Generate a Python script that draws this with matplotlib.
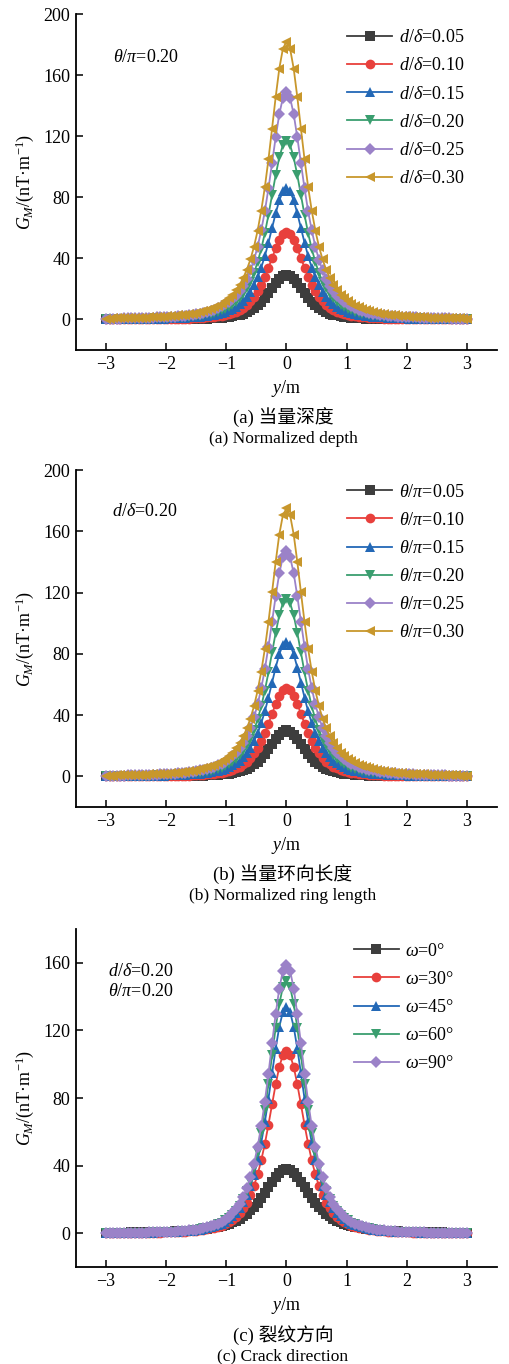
import matplotlib
matplotlib.use("Agg")
import matplotlib.pyplot as plt
import numpy as np

plt.rcParams['font.family'] = ['Liberation Serif', 'Noto Sans CJK SC']
plt.rcParams['mathtext.fontset'] = 'custom'
plt.rcParams['mathtext.rm'] = 'Liberation Serif'
plt.rcParams['mathtext.it'] = 'Liberation Serif:italic'
plt.rcParams['font.size'] = 13

# sample positions y >= 0 (curves are symmetric about y = 0)
y_half = np.round(np.arange(0, 3.0001, 0.06), 2)

# (a) normalized depth, theta/pi = 0.20
depth_labels = [r'$d/\delta$=0.05', r'$d/\delta$=0.10', r'$d/\delta$=0.15',
                r'$d/\delta$=0.20', r'$d/\delta$=0.25', r'$d/\delta$=0.30']
depth_005 = [29.0, 28.3, 26.4, 23.7, 20.5, 17.2, 14.2, 11.6, 9.3, 7.5, 6.0, 4.9, 3.9, 3.2, 2.6, 2.1, 1.8,
             1.5, 1.2, 1.0, 0.9, 0.8, 0.6, 0.6, 0.5, 0.4, 0.4, 0.3, 0.3, 0.2, 0.2, 0.2, 0.2, 0.2, 0.1,
             0.1, 0.1, 0.1, 0.1, 0.1, 0.1, 0.1, 0.1, 0.1, 0.0, 0.0, 0.0, 0.0, 0.0, 0.0, 0.0]
depth_010 = [57.0, 55.7, 51.9, 46.5, 40.2, 33.9, 27.9, 22.7, 18.4, 14.8, 11.9, 9.6, 7.8, 6.3, 5.1, 4.2, 3.5,
             2.9, 2.4, 2.1, 1.7, 1.5, 1.3, 1.1, 0.9, 0.8, 0.7, 0.6, 0.5, 0.5, 0.4, 0.4, 0.3, 0.3, 0.3,
             0.2, 0.2, 0.2, 0.2, 0.2, 0.1, 0.1, 0.1, 0.1, 0.1, 0.1, 0.1, 0.1, 0.1, 0.1, 0.1]
depth_015 = [86.0, 83.9, 78.0, 69.5, 59.9, 50.3, 41.5, 34.0, 27.6, 22.4, 18.2, 15.0, 12.3, 10.1, 8.4, 7.1, 5.9,
             5.0, 4.3, 3.7, 3.2, 2.8, 2.4, 2.1, 1.8, 1.6, 1.5, 1.3, 1.1, 1.0, 0.9, 0.8, 0.8, 0.7, 0.6,
             0.6, 0.5, 0.5, 0.4, 0.4, 0.4, 0.3, 0.3, 0.3, 0.3, 0.3, 0.2, 0.2, 0.2, 0.2, 0.2]
depth_020 = [117.0, 114.2, 106.1, 94.5, 81.5, 68.4, 56.5, 46.2, 37.6, 30.5, 24.8, 20.4, 16.7, 13.8, 11.5, 9.6,
             8.1, 6.8, 5.9, 5.0, 4.3, 3.7, 3.3, 2.8, 2.5, 2.2, 2.0, 1.8, 1.5, 1.4, 1.3, 1.1, 1.0, 0.9, 0.9,
             0.8, 0.7, 0.7, 0.6, 0.5, 0.5, 0.5, 0.4, 0.4, 0.4, 0.4, 0.3, 0.3, 0.3, 0.3, 0.3]
depth_025 = [149.0, 145.1, 134.4, 119.2, 102.4, 85.8, 70.9, 58.3, 47.7, 39.0, 32.2, 26.7, 22.2, 18.6, 15.6,
             13.3, 11.4, 9.8, 8.5, 7.4, 6.4, 5.7, 5.0, 4.4, 3.9, 3.5, 3.2, 2.8, 2.5, 2.3, 2.1, 1.9, 1.8,
             1.6, 1.5, 1.4, 1.3, 1.2, 1.1, 1.0, 0.9, 0.9, 0.8, 0.8, 0.7, 0.7, 0.6, 0.6, 0.6, 0.5, 0.5]
depth_030 = [182.0, 177.3, 164.2, 145.6, 125.0, 104.8, 86.6, 71.2, 58.2, 47.7, 39.3, 32.6, 27.1, 22.8, 19.1,
             16.3, 14.0, 12.0, 10.4, 9.0, 7.9, 6.9, 6.1, 5.4, 4.8, 4.3, 3.9, 3.5, 3.1, 2.9, 2.6, 2.4, 2.2,
             2.0, 1.8, 1.7, 1.5, 1.4, 1.3, 1.2, 1.1, 1.1, 1.0, 0.9, 0.9, 0.8, 0.8, 0.7, 0.7, 0.6, 0.6]

# (b) normalized ring length, d/delta = 0.20
ring_labels = [r'$\theta/\pi$=0.05', r'$\theta/\pi$=0.10', r'$\theta/\pi$=0.15',
               r'$\theta/\pi$=0.20', r'$\theta/\pi$=0.25', r'$\theta/\pi$=0.30']
ring_005 = [30.0, 29.3, 27.3, 24.5, 21.2, 17.8, 14.7, 12.0, 9.7, 7.8, 6.2, 5.0, 4.1, 3.3, 2.7, 2.2, 1.8,
            1.5, 1.3, 1.1, 0.9, 0.8, 0.7, 0.6, 0.5, 0.4, 0.4, 0.3, 0.3, 0.2, 0.2, 0.2, 0.2, 0.2, 0.1,
            0.1, 0.1, 0.1, 0.1, 0.1, 0.1, 0.1, 0.1, 0.1, 0.1, 0.0, 0.0, 0.0, 0.0, 0.0, 0.0]
ring_010 = [58.0, 56.7, 52.8, 47.3, 40.9, 34.5, 28.4, 23.1, 18.7, 15.0, 12.1, 9.7, 7.9, 6.4, 5.2, 4.3, 3.5,
            3.0, 2.4, 2.1, 1.7, 1.5, 1.3, 1.1, 0.9, 0.8, 0.7, 0.6, 0.5, 0.5, 0.4, 0.4, 0.3, 0.3, 0.3,
            0.2, 0.2, 0.2, 0.2, 0.2, 0.1, 0.1, 0.1, 0.1, 0.1, 0.1, 0.1, 0.1, 0.1, 0.1, 0.1]
ring_015 = [88.0, 85.9, 79.8, 71.1, 61.3, 51.5, 42.5, 34.8, 28.2, 23.0, 18.7, 15.3, 12.6, 10.4, 8.6, 7.2, 6.1,
            5.1, 4.4, 3.8, 3.3, 2.8, 2.5, 2.1, 1.8, 1.7, 1.5, 1.3, 1.1, 1.1, 1.0, 0.9, 0.8, 0.7, 0.6,
            0.6, 0.5, 0.5, 0.5, 0.4, 0.4, 0.4, 0.3, 0.3, 0.3, 0.3, 0.2, 0.2, 0.2, 0.2, 0.2]
ring_020 = [116.0, 113.2, 105.2, 93.7, 80.9, 67.9, 56.0, 45.8, 37.2, 30.3, 24.6, 20.2, 16.6, 13.7, 11.4, 9.5,
            8.0, 6.7, 5.8, 5.0, 4.3, 3.7, 3.2, 2.8, 2.4, 2.2, 2.0, 1.7, 1.5, 1.4, 1.3, 1.1, 1.0, 0.9, 0.8,
            0.8, 0.7, 0.6, 0.6, 0.5, 0.5, 0.5, 0.4, 0.4, 0.4, 0.3, 0.3, 0.3, 0.3, 0.3, 0.3]
ring_025 = [147.0, 143.2, 132.6, 117.6, 101.0, 84.7, 70.0, 57.5, 47.0, 38.5, 31.8, 26.3, 21.9, 18.4, 15.4,
            13.1, 11.3, 9.7, 8.4, 7.3, 6.4, 5.6, 5.0, 4.4, 3.9, 3.5, 3.1, 2.8, 2.5, 2.3, 2.1, 1.9, 1.8,
            1.6, 1.5, 1.4, 1.2, 1.1, 1.1, 1.0, 0.9, 0.9, 0.8, 0.7, 0.7, 0.6, 0.6, 0.6, 0.5, 0.5, 0.5]
ring_030 = [175.0, 170.5, 157.9, 140.0, 120.2, 100.8, 83.3, 68.4, 56.0, 45.9, 37.8, 31.3, 26.1, 21.9, 18.4,
            15.6, 13.5, 11.5, 10.0, 8.7, 7.6, 6.7, 5.9, 5.2, 4.6, 4.2, 3.7, 3.4, 3.0, 2.8, 2.5, 2.3, 2.1,
            1.9, 1.8, 1.6, 1.5, 1.4, 1.3, 1.2, 1.1, 1.0, 0.9, 0.9, 0.8, 0.8, 0.7, 0.7, 0.6, 0.6, 0.6]

# (c) crack direction, d/delta = 0.20, theta/pi = 0.20
dir_labels = [r'$\omega$=0°', r'$\omega$=30°', r'$\omega$=45°', r'$\omega$=60°', r'$\omega$=90°']
dir_00 = [38.0, 37.4, 35.8, 33.4, 30.4, 27.2, 24.0, 20.9, 18.1, 15.6, 13.5, 11.6, 10.0, 8.6, 7.4, 6.5, 5.7,
          4.9, 4.4, 3.8, 3.4, 3.0, 2.7, 2.4, 2.2, 1.9, 1.7, 1.6, 1.4, 1.3, 1.2, 1.1, 1.0, 0.9, 0.8, 0.8,
          0.7, 0.7, 0.6, 0.6, 0.5, 0.5, 0.5, 0.5, 0.4, 0.4, 0.4, 0.4, 0.3, 0.3, 0.3]
dir_30 = [108.0, 105.5, 98.4, 88.1, 76.2, 64.2, 52.9, 43.1, 34.8, 28.0, 22.5, 18.1, 14.7, 11.9, 9.7, 8.0, 6.6,
          5.5, 4.5, 3.9, 3.2, 2.8, 2.4, 2.1, 1.7, 1.5, 1.3, 1.2, 1.0, 0.9, 0.8, 0.7, 0.6, 0.6, 0.5, 0.4,
          0.4, 0.4, 0.3, 0.3, 0.3, 0.2, 0.2, 0.2, 0.2, 0.2, 0.2, 0.1, 0.1, 0.1, 0.1]
dir_45 = [134.0, 130.9, 122.1, 109.3, 94.6, 79.6, 65.7, 53.5, 43.1, 34.7, 27.9, 22.5, 18.2, 14.7, 12.1, 9.9,
          8.2, 6.8, 5.6, 4.8, 4.0, 3.5, 2.9, 2.5, 2.1, 1.9, 1.6, 1.5, 1.2, 1.1, 0.9, 0.9, 0.8, 0.7, 0.6,
          0.5, 0.5, 0.4, 0.4, 0.4, 0.3, 0.3, 0.3, 0.2, 0.2, 0.2, 0.2, 0.2, 0.2, 0.1, 0.1]
dir_60 = [149.0, 145.6, 135.7, 121.6, 105.2, 88.5, 73.0, 59.5, 48.0, 38.6, 31.0, 25.0, 20.3, 16.4, 13.4, 11.0,
          9.1, 7.6, 6.3, 5.4, 4.5, 3.9, 3.3, 2.8, 2.4, 2.1, 1.8, 1.6, 1.3, 1.2, 1.0, 1.0, 0.8, 0.8, 0.7,
          0.6, 0.6, 0.5, 0.4, 0.4, 0.4, 0.3, 0.3, 0.3, 0.3, 0.2, 0.2, 0.2, 0.2, 0.2, 0.1]
dir_90 = [159.0, 155.3, 144.8, 129.7, 112.3, 94.4, 77.9, 63.4, 51.2, 41.2, 33.1, 26.7, 21.6, 17.5, 14.3, 11.8,
          9.7, 8.1, 6.7, 5.7, 4.8, 4.1, 3.5, 3.0, 2.5, 2.2, 1.9, 1.7, 1.4, 1.3, 1.1, 1.0, 0.9, 0.8, 0.7,
          0.7, 0.6, 0.5, 0.5, 0.4, 0.4, 0.3, 0.3, 0.3, 0.3, 0.2, 0.2, 0.2, 0.2, 0.2, 0.2]

colors = ['#3d3d3d', '#e8403c', '#2368b6', '#3a9e6f', '#9b82c8', '#c8972c']
markers = ['s', 'o', '^', 'v', 'D', '<']
msizes = [6.5, 7, 7.5, 7.5, 6.5, 7.5]


def full_curve(half):
    half = np.asarray(half)
    return np.concatenate([half[:0:-1], half])


y_full = np.concatenate([-y_half[:0:-1], y_half])


def draw_panel(ax, series, labels, ymax, leg_anchor):
    for i, (vals, lab) in enumerate(zip(series, labels)):
        ax.plot(y_full, full_curve(vals), color=colors[i], marker=markers[i],
                markersize=msizes[i], markeredgewidth=0, linewidth=1.3, label=lab)
    ax.set_xlim(-3.5, 3.5)
    ax.set_ylim(-20, ymax)
    ax.set_xticks([-3, -2, -1, 0, 1, 2, 3])
    ax.set_yticks(np.arange(0, ymax + 1, 40))
    ax.spines['top'].set_visible(False)
    ax.spines['right'].set_visible(False)
    ax.spines['left'].set_linewidth(1.3)
    ax.spines['bottom'].set_linewidth(1.3)
    ax.tick_params(direction='in', length=5, width=1.1, labelsize=13, pad=4)
    ax.legend(loc='upper left', bbox_to_anchor=leg_anchor, frameon=False,
              borderpad=0, borderaxespad=0, handlelength=2.5, handletextpad=0.35,
              labelspacing=0.62, fontsize=13)


fig = plt.figure(figsize=(5.1, 13.64), dpi=100)
ax_a = fig.add_axes([0.149, 0.7434, 0.8255, 0.2463])
ax_b = fig.add_axes([0.149, 0.4083, 0.8255, 0.2471])
ax_c = fig.add_axes([0.149, 0.0711, 0.8255, 0.2478])

draw_panel(ax_a, [depth_005, depth_010, depth_015, depth_020, depth_025, depth_030],
           depth_labels, 200, (0.644, 0.955))
draw_panel(ax_b, [ring_005, ring_010, ring_015, ring_020, ring_025, ring_030],
           ring_labels, 200, (0.644, 0.96))
draw_panel(ax_c, [dir_00, dir_30, dir_45, dir_60, dir_90],
           dir_labels, 180, (0.66, 0.96))

ax_a.text(0.088, 0.872, r'$\theta/\pi$=0.20', transform=ax_a.transAxes, va='center', fontsize=13)
ax_b.text(0.085, 0.878, r'$d/\delta$=0.20', transform=ax_b.transAxes, va='center', fontsize=13)
ax_c.text(0.075, 0.873, r'$d/\delta$=0.20', transform=ax_c.transAxes, va='center', fontsize=13)
ax_c.text(0.075, 0.814, r'$\theta/\pi$=0.20', transform=ax_c.transAxes, va='center', fontsize=13)

ylab = r'$G_M$/(nT·m$^{-1}$)'
for ax in (ax_a, ax_b, ax_c):
    pos = ax.get_position()
    fig.text(0.049, pos.y0 + pos.height / 2, ylab, rotation=90, ha='center', va='center', fontsize=13)
    fig.text(0.561, pos.y0 - 38 / 1364, r'$y$/m', ha='center', va='center', fontsize=13)

captions = [('(a) 当量深度', '(a) Normalized depth', 0.7434),
            ('(b) 当量环向长度', '(b) Normalized ring length', 0.4083),
            ('(c) 裂纹方向', '(c) Crack direction', 0.0711)]
for zh, en, y0 in captions:
    fig.text(0.555, y0 - 68 / 1364, zh, ha='center', va='center', fontsize=13.5)
    fig.text(0.555, y0 - 89 / 1364, en, ha='center', va='center', fontsize=12.5)

fig.savefig('out.png', dpi=100)
